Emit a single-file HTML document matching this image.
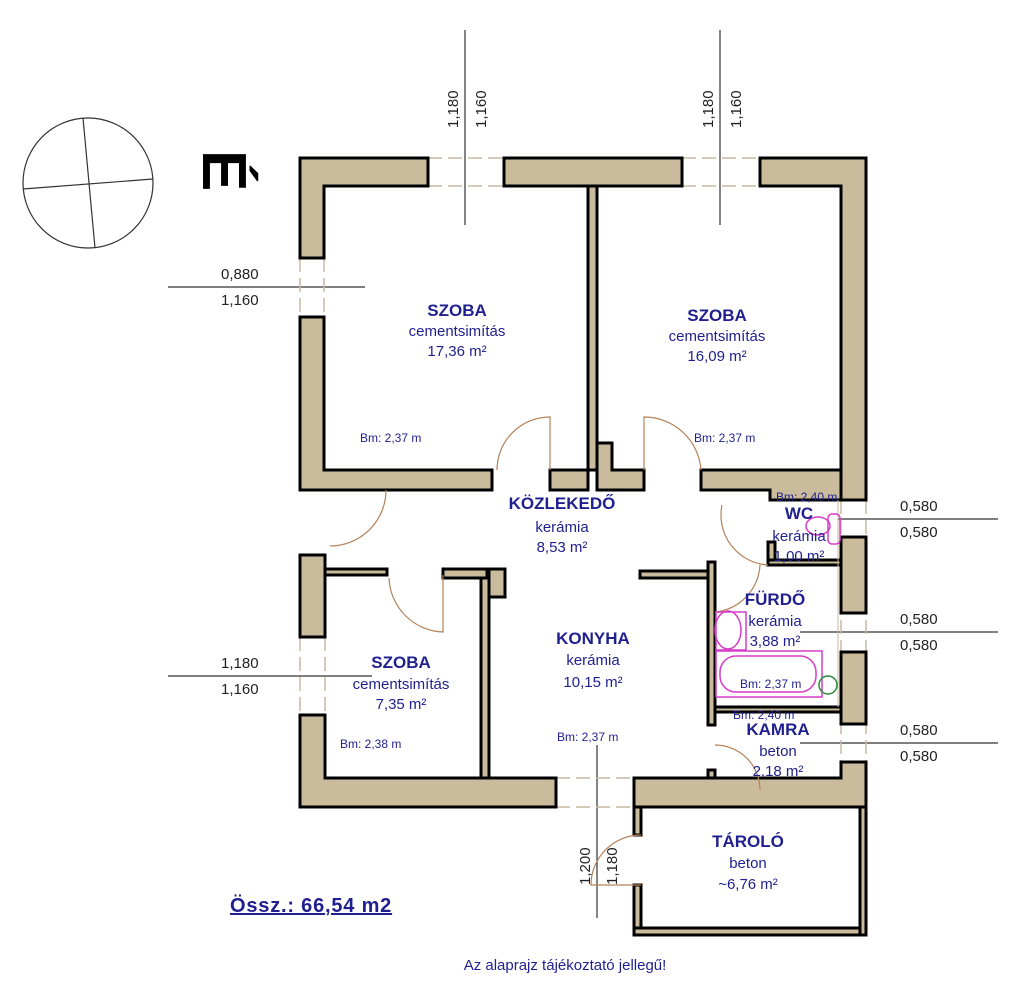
<!DOCTYPE html>
<html><head><meta charset="utf-8"><style>
html,body{margin:0;padding:0;background:#fff;}
svg{display:block;}
.t{font-family:"Liberation Sans",sans-serif;fill:#1f1f8f;}
.b{font-weight:bold;}
.d{font-family:"Liberation Sans",sans-serif;fill:#222;font-size:15px;}
</style></head><body>
<svg width="1024" height="993" viewBox="0 0 1024 993" xmlns="http://www.w3.org/2000/svg">
<circle cx="88" cy="183" r="65" fill="none" stroke="#333" stroke-width="1.2"/>
<line x1="83" y1="118" x2="95" y2="248" stroke="#333" stroke-width="1.2"/>
<line x1="23" y1="189" x2="153" y2="179" stroke="#333" stroke-width="1.2"/>
<text x="0" y="0" transform="translate(203,150) rotate(90)" font-family="Liberation Sans,sans-serif" font-weight="bold" font-size="62" fill="#000">É</text>

<g stroke="#333" stroke-width="1.2">
<line x1="465" y1="30" x2="465" y2="225"/>
<line x1="720" y1="30" x2="720" y2="225"/>
<line x1="168" y1="287" x2="365" y2="287"/>
<line x1="168" y1="676" x2="372" y2="676"/>
<line x1="838" y1="519" x2="998" y2="519"/>
<line x1="800" y1="632" x2="998" y2="632"/>
<line x1="800" y1="743" x2="998" y2="743"/>
<line x1="597" y1="745" x2="597" y2="918"/>
</g>
<text class="d" transform="translate(458,128) rotate(-90)">1,180</text>
<text class="d" transform="translate(486,128) rotate(-90)">1,160</text>
<text class="d" transform="translate(713,128) rotate(-90)">1,180</text>
<text class="d" transform="translate(741,128) rotate(-90)">1,160</text>
<text class="d" transform="translate(590,885) rotate(-90)">1,200</text>
<text class="d" transform="translate(617,885) rotate(-90)">1,180</text>
<text class="d" x="221" y="279">0,880</text>
<text class="d" x="221" y="305">1,160</text>
<text class="d" x="221" y="668">1,180</text>
<text class="d" x="221" y="694">1,160</text>
<text class="d" x="900" y="511">0,580</text>
<text class="d" x="900" y="537">0,580</text>
<text class="d" x="900" y="624">0,580</text>
<text class="d" x="900" y="650">0,580</text>
<text class="d" x="900" y="735">0,580</text>
<text class="d" x="900" y="761">0,580</text>

<g stroke="#c9b9a0" stroke-width="1.5" stroke-dasharray="14,6">
<line x1="428" y1="158" x2="504" y2="158"/><line x1="428" y1="186" x2="504" y2="186"/>
<line x1="682" y1="158" x2="760" y2="158"/><line x1="682" y1="186" x2="760" y2="186"/>
<line x1="300" y1="258" x2="300" y2="317"/><line x1="324" y1="258" x2="324" y2="317"/>
<line x1="300" y1="637" x2="300" y2="715"/><line x1="325" y1="637" x2="325" y2="715"/>
<line x1="556" y1="778" x2="634" y2="778"/><line x1="556" y1="807" x2="634" y2="807"/>
<line x1="841" y1="500" x2="841" y2="762"/><line x1="866" y1="500" x2="866" y2="762"/>
</g>

<g fill="#c9bb9c" stroke="#000" stroke-width="3">
<path d="M300 158 H428 V186 H324 V258 H300 Z"/>
<rect x="504" y="158" width="178" height="28"/>
<path d="M760 158 H866 V500 H841 V186 H760 Z"/>
<path d="M300 317 H324 V470 H492 V490 H300 Z"/>
<rect x="550" y="470" width="38" height="20"/>
<rect x="588" y="186" width="9" height="284"/>
<path d="M597 443 H612 V470 H644 V490 H597 Z"/>
<path d="M701 470 H841 V500 H770 V490 H701 Z"/>
<rect x="300" y="555" width="25" height="82"/>
<rect x="325" y="569" width="62" height="6"/>
<rect x="443" y="569" width="44" height="9"/>
<rect x="489" y="569" width="16" height="28"/>
<rect x="481" y="578" width="8" height="200"/>
<path d="M300 715 H325 V778 H556 V807 H300 Z"/>
<rect x="640" y="571" width="68" height="7"/>
<rect x="708" y="562" width="7" height="163"/>
<rect x="708" y="770" width="7" height="8"/>
<rect x="768" y="542" width="7" height="20"/>
<rect x="768" y="560" width="73" height="5"/>
<rect x="715" y="707" width="126" height="5"/>
<rect x="841" y="537" width="25" height="76"/>
<rect x="841" y="652" width="25" height="72"/>
<path d="M634 778 H841 V762 H866 V807 H634 Z"/>
<path d="M634 807 H641 V835 H634 Z M634 885 H641 V935 H634 Z"/>
<rect x="634" y="928" width="232" height="7"/>
<rect x="860" y="807" width="6" height="128"/>
</g>
<line x1="838" y1="500" x2="838" y2="707" stroke="#c9b9a0" stroke-width="1"/>

<g fill="none" stroke="#b5825a" stroke-width="1.2">
<path d="M550 470 V417 A53 53 0 0 0 497 470"/>
<path d="M644 470 V417 A57 57 0 0 1 701 470"/>
<path d="M386 490 A56 56 0 0 1 330 546"/>
<path d="M443 575 V632 A56 56 0 0 1 389 578"/>
<path d="M768 565 A50 50 0 0 1 722 505"/>
<path d="M760 565 A50 50 0 0 1 715 612"/>
<path d="M715 745 A45 45 0 0 1 760 790"/>
<path d="M641 835 A50 50 0 0 0 591 885 H641"/>
</g>

<g fill="none" stroke="#d63cc8" stroke-width="1.5">
<rect x="828" y="514" width="12" height="30" rx="4"/>
<ellipse cx="818" cy="526" rx="12" ry="9"/>
<ellipse cx="728" cy="630" rx="13" ry="19"/>
<rect x="716" y="612" width="30" height="38"/>
<rect x="716" y="651" width="106" height="46"/>
<rect x="720" y="656" width="96" height="36" rx="16"/>
</g>
<circle cx="828" cy="685" r="9" fill="none" stroke="#2a8a3a" stroke-width="1.5"/>

<g class="t" text-anchor="middle">
<text class="b" x="457" y="316" font-size="17">SZOBA</text>
<text x="457" y="336" font-size="15">cementsimítás</text>
<text x="457" y="356" font-size="15">17,36 m²</text>
<text class="b" x="717" y="321" font-size="17">SZOBA</text>
<text x="717" y="341" font-size="15">cementsimítás</text>
<text x="717" y="361" font-size="15">16,09 m²</text>
<text class="b" x="562" y="509" font-size="17">KÖZLEKEDŐ</text>
<text x="562" y="532" font-size="15">kerámia</text>
<text x="562" y="552" font-size="15">8,53 m²</text>
<text class="b" x="593" y="644" font-size="17">KONYHA</text>
<text x="593" y="665" font-size="15">kerámia</text>
<text x="593" y="687" font-size="15">10,15 m²</text>
<text class="b" x="401" y="668" font-size="17">SZOBA</text>
<text x="401" y="689" font-size="15">cementsimítás</text>
<text x="401" y="709" font-size="15">7,35 m²</text>
<text class="b" x="799" y="519" font-size="17">WC</text>
<text x="799" y="541" font-size="15">kerámia</text>
<text x="799" y="561" font-size="15">1,00 m²</text>
<text class="b" x="775" y="605" font-size="17">FÜRDŐ</text>
<text x="775" y="626" font-size="15">kerámia</text>
<text x="775" y="646" font-size="15">3,88 m²</text>
<text class="b" x="778" y="735" font-size="17">KAMRA</text>
<text x="778" y="756" font-size="15">beton</text>
<text x="778" y="776" font-size="15">2,18 m²</text>
<text class="b" x="748" y="847" font-size="17">TÁROLÓ</text>
<text x="748" y="868" font-size="15">beton</text>
<text x="748" y="889" font-size="15">~6,76 m²</text>
<text x="565" y="970" font-size="15">Az alaprajz tájékoztató jellegű!</text>
</g>
<g class="t" font-size="12">
<text x="360" y="442">Bm: 2,37 m</text>
<text x="694" y="442">Bm: 2,37 m</text>
<text x="776" y="501">Bm: 2,40 m</text>
<text x="740" y="688">Bm: 2,37 m</text>
<text x="733" y="719">Bm: 2,40 m</text>
<text x="340" y="748">Bm: 2,38 m</text>
<text x="557" y="741">Bm: 2,37 m</text>
</g>
<text class="t b" x="230" y="912" font-size="20" letter-spacing="0.8" text-decoration="underline">Össz.: 66,54 m2</text>
</svg>
</body></html>
